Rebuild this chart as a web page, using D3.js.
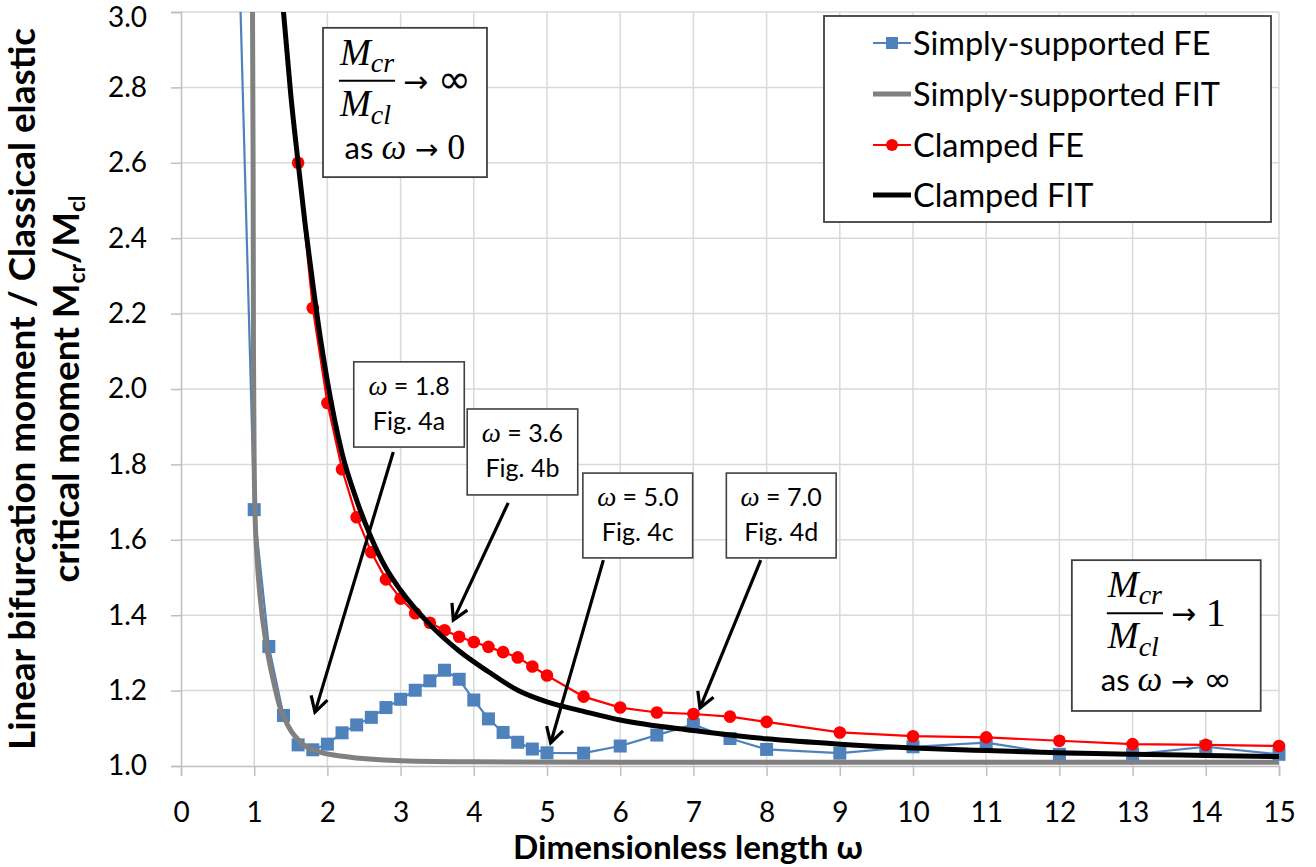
<!DOCTYPE html>
<html>
<head>
<meta charset="utf-8">
<script src="https://cdn.jsdelivr.net/npm/d3@7"></script>
<style>
  body { margin: 0; background: #fff; }
  text { font-family: Lato, "Open Sans", sans-serif; fill: #000; }
  .serif { font-family: "Liberation Serif", "DejaVu Serif", serif; }
  .sym { font-family: "DejaVu Sans", sans-serif; }
</style>
</head>
<body>
<svg id="chart" width="1316" height="867"></svg>
<script>
// ---- data ----
const ssFeOmega = [0.8, 1.0, 1.2, 1.4, 1.6, 1.8, 2.0, 2.2, 2.4, 2.6, 2.8, 3.0, 3.2, 3.4, 3.6, 3.8, 4.0, 4.2, 4.4, 4.6, 4.8, 5.0,
                   5.5, 6.0, 6.5, 7.0, 7.5, 8.0, 9.0, 10, 11, 12, 13, 14, 15];
const ssFeValue = [3.10, 1.68, 1.317, 1.134, 1.056, 1.043, 1.058, 1.088, 1.109, 1.129, 1.155, 1.177, 1.201, 1.226, 1.254, 1.230, 1.175, 1.125, 1.089, 1.063, 1.045, 1.035,
                   1.034, 1.053, 1.082, 1.110, 1.073, 1.044, 1.034, 1.051, 1.062, 1.031, 1.031, 1.051, 1.031];

const ssFitOmega = [0.975, 0.985, 0.99, 1.0, 1.01, 1.04, 1.08, 1.17, 1.26, 1.35, 1.47, 1.65, 1.88, 2.24, 3.0, 4.0, 6.0, 10, 15];
const ssFitValue = [3.10, 2.60, 2.10, 1.80, 1.68, 1.55, 1.45, 1.316, 1.228, 1.157, 1.104, 1.060, 1.038, 1.025, 1.014, 1.011, 1.010, 1.010, 1.010];

const clFeOmega = [1.6, 1.8, 2.0, 2.2, 2.4, 2.6, 2.8, 3.0, 3.2, 3.4, 3.6, 3.8, 4.0, 4.2, 4.4, 4.6, 4.8, 5.0,
                   5.5, 6.0, 6.5, 7.0, 7.5, 8.0, 9.0, 10, 11, 12, 13, 14, 15];
const clFeValue = [2.60, 2.215, 1.963, 1.787, 1.660, 1.567, 1.495, 1.444, 1.405, 1.380, 1.360, 1.343, 1.329, 1.316, 1.302, 1.288, 1.264, 1.240,
                   1.184, 1.155, 1.142, 1.138, 1.131, 1.117, 1.089, 1.079, 1.076, 1.067, 1.058, 1.056, 1.053];

const clFitOmega = [1.37, 1.4, 1.5, 1.6, 1.7, 1.8, 1.9, 2.0, 2.2, 2.4, 2.6, 2.8, 3.0, 3.4, 3.8, 4.2, 4.6, 5.0, 5.5, 6, 7, 8, 9, 10, 11, 12, 13, 14, 15];
const clFitValue = [3.07, 3.00, 2.78, 2.60, 2.43, 2.28, 2.14, 2.02, 1.83, 1.705, 1.605, 1.525, 1.466, 1.375, 1.305, 1.250, 1.201, 1.170, 1.145, 1.122, 1.094, 1.072, 1.058, 1.048, 1.041, 1.035, 1.031, 1.028, 1.025];

const xTickValues = [0, 1, 2, 3, 4, 5, 6, 7, 8, 9, 10, 11, 12, 13, 14, 15];
const yTickValues = [1.0, 1.2, 1.4, 1.6, 1.8, 2.0, 2.2, 2.4, 2.6, 2.8, 3.0];

const legendLabels = ["Simply-supported FE", "Simply-supported FIT", "Clamped FE", "Clamped FIT"];

// callouts: omega label, figure label, box corners and arrow in data units
const callouts = [
  { w: "1.8", fig: "Fig. 4a", box: [2.36, 2.072, 3.87, 1.846], from: [2.90, 1.833], to: [1.83, 1.143] },
  { w: "3.6", fig: "Fig. 4b", box: [3.91, 1.947, 5.42, 1.719], from: [4.47, 1.698], to: [3.72, 1.387] },
  { w: "5.0", fig: "Fig. 4c", box: [5.49, 1.777, 6.99, 1.552], from: [5.77, 1.546], to: [5.05, 1.061] },
  { w: "7.0", fig: "Fig. 4d", box: [7.45, 1.777, 8.95, 1.552], from: [7.92, 1.546], to: [7.09, 1.154] }
];
const limitBoxes = [
  { limit: "∞", as: "0", box: [1.94, 2.958, 4.18, 2.562] },
  { limit: "1", as: "∞", box: [12.17, 1.546, 14.75, 1.146] }
];

// ---- layout ----
const svg = d3.select("#chart");
const x = d3.scaleLinear().domain([0, 15]).range([181, 1279]);
const y = d3.scaleLinear().domain([1, 3]).range([766, 12]);

function fit(sel, target) {
  const w = sel.node().getComputedTextLength();
  const fs = parseFloat(sel.style("font-size"));
  sel.style("font-size", (fs * target / w) + "px");
}

// grid
svg.append("g")
  .selectAll("line")
  .data(xTickValues.slice(1))
  .enter().append("line")
  .attr("x1", d => x(d)).attr("x2", d => x(d))
  .attr("y1", y(3)).attr("y2", y(1))
  .attr("stroke", "#d9d9d9").attr("stroke-width", 1.5);
svg.append("g")
  .selectAll("line")
  .data(yTickValues.slice(1))
  .enter().append("line")
  .attr("x1", x(0)).attr("x2", x(15))
  .attr("y1", d => y(d)).attr("y2", d => y(d))
  .attr("stroke", "#d9d9d9").attr("stroke-width", 1.5);

// axes
const xAxis = svg.append("g")
  .attr("transform", `translate(0,${y(1)})`)
  .call(d3.axisBottom(x).tickValues(xTickValues).tickSize(10).tickPadding(26).tickFormat(d3.format("d")));
const yAxis = svg.append("g")
  .attr("transform", `translate(${x(0)},0)`)
  .call(d3.axisLeft(y).tickValues(yTickValues).tickSize(10).tickPadding(24).tickFormat(d3.format(".1f")));
[xAxis, yAxis].forEach(g => {
  g.select(".domain").attr("stroke", "#bfbfbf").attr("stroke-width", 1.5);
  g.selectAll(".tick line").attr("stroke", "#bfbfbf").attr("stroke-width", 1.5);
  g.selectAll(".tick text").style("font-family", "Lato, sans-serif").style("font-size", "28px").attr("fill", "#000");
});
// keep the top label inside the picture
yAxis.selectAll(".tick text").filter(d => d === 3).attr("dy", "0.52em");

// series
svg.append("clipPath").attr("id", "plotClip")
  .append("rect").attr("x", 150).attr("y", y(3)).attr("width", 1160).attr("height", y(1) - y(3) + 20);
const plot = svg.append("g").attr("clip-path", "url(#plotClip)");

const zip = (a, b) => a.map((d, i) => [d, b[i]]);
const straight = d3.line().x(d => x(d[0])).y(d => y(d[1]));
const smooth = d3.line().x(d => x(d[0])).y(d => y(d[1])).curve(d3.curveMonotoneX);

const ssFe = zip(ssFeOmega, ssFeValue);
const ssFit = zip(ssFitOmega, ssFitValue);
const clFe = zip(clFeOmega, clFeValue);
const clFit = zip(clFitOmega, clFitValue);

plot.append("path").datum(ssFe).attr("d", straight)
  .attr("fill", "none").attr("stroke", "#4f81bd").attr("stroke-width", 2.2);
plot.selectAll("rect.ss").data(ssFe).enter().append("rect")
  .attr("x", d => x(d[0]) - 6.5).attr("y", d => y(d[1]) - 6.5)
  .attr("width", 13).attr("height", 13).attr("fill", "#4f81bd");

plot.append("path").datum(ssFit).attr("d", smooth)
  .attr("fill", "none").attr("stroke", "#808080").attr("stroke-width", 5);

plot.append("path").datum(clFe).attr("d", straight)
  .attr("fill", "none").attr("stroke", "#ff0000").attr("stroke-width", 2.2);
plot.selectAll("circle.cl").data(clFe).enter().append("circle")
  .attr("cx", d => x(d[0])).attr("cy", d => y(d[1])).attr("r", 6.3).attr("fill", "#ff0000");

plot.append("path").datum(clFit).attr("d", smooth)
  .attr("fill", "none").attr("stroke", "#000").attr("stroke-width", 5);

// axis titles
const xTitle = svg.append("text")
  .attr("x", 513).attr("y", 859)
  .style("font-weight", "bold").style("font-size", "30px")
  .text("Dimensionless length ω");
fit(xTitle, 350);

const yT1 = svg.append("text")
  .attr("transform", `translate(35,${(y(1) + y(3)) / 2}) rotate(-90)`)
  .attr("text-anchor", "middle")
  .style("font-weight", "bold").style("font-size", "30px")
  .text("Linear bifurcation moment / Classical elastic");
fit(yT1, 722);
const yFs = parseFloat(yT1.style("font-size"));
const yT2 = svg.append("text")
  .attr("transform", `translate(79,${(y(1) + y(3)) / 2}) rotate(-90)`)
  .attr("text-anchor", "middle")
  .style("font-weight", "bold").style("font-size", yFs + "px");
yT2.append("tspan").text("critical moment M");
yT2.append("tspan").attr("dy", 6).style("font-size", (yFs * 0.62) + "px").text("cr");
yT2.append("tspan").attr("dy", -6).text("/M");
yT2.append("tspan").attr("dy", 6).style("font-size", (yFs * 0.62) + "px").text("cl");

// legend
const lg = svg.append("g");
lg.append("rect").attr("x", 824).attr("y", 16).attr("width", 447).attr("height", 206)
  .attr("fill", "#fff").attr("stroke", "#404040").attr("stroke-width", 1.8);
const rowY = [43, 94, 145, 195];
const lineCol = ["#4f81bd", "#808080", "#ff0000", "#000"];
const lineW = [2.2, 5, 2.2, 5];
legendLabels.forEach((label, i) => {
  lg.append("line").attr("x1", 873).attr("x2", 911).attr("y1", rowY[i]).attr("y2", rowY[i])
    .attr("stroke", lineCol[i]).attr("stroke-width", lineW[i]);
  if (i === 0) lg.append("rect").attr("x", 886).attr("y", rowY[i] - 6).attr("width", 12).attr("height", 12).attr("fill", lineCol[i]);
  if (i === 2) lg.append("circle").attr("cx", 892).attr("cy", rowY[i]).attr("r", 6).attr("fill", lineCol[i]);
  lg.append("text").attr("class", "lgt").attr("x", 913).attr("y", rowY[i]).attr("dy", "0.36em")
    .style("font-size", "26px").text(label);
});
const widest = lg.selectAll("text.lgt").filter((d, i) => i === 1);
fit(widest, 307);
lg.selectAll("text.lgt").style("font-size", widest.style("font-size"));

// arrow marker
svg.append("defs").append("marker")
  .attr("id", "head").attr("viewBox", "-18 -12 22 24")
  .attr("refX", 0).attr("refY", 0)
  .attr("markerWidth", 22).attr("markerHeight", 24)
  .attr("markerUnits", "userSpaceOnUse").attr("orient", "auto")
  .append("path").attr("d", "M-15,-8.5 L0,0 L-15,8.5")
  .attr("fill", "none").attr("stroke", "#000").attr("stroke-width", 3.2);

// callouts
callouts.forEach(c => {
  const [w0, v0, w1, v1] = c.box;
  const bx = x(w0), by = y(v0), bw = x(w1) - x(w0), bh = y(v1) - y(v0);
  svg.append("line")
    .attr("x1", x(c.from[0])).attr("y1", y(c.from[1]))
    .attr("x2", x(c.to[0])).attr("y2", y(c.to[1]))
    .attr("stroke", "#000").attr("stroke-width", 3.2).attr("marker-end", "url(#head)");
  svg.append("rect").attr("x", bx).attr("y", by).attr("width", bw).attr("height", bh)
    .attr("fill", "#fff").attr("stroke", "#404040").attr("stroke-width", 1.6);
  const t1 = svg.append("text").attr("x", bx + bw / 2).attr("y", by + 33)
    .attr("text-anchor", "middle").style("font-size", "25px");
  t1.append("tspan").attr("class", "serif").style("font-style", "italic").style("font-size", "27px").text("ω");
  t1.append("tspan").text(" = " + c.w);
  svg.append("text").attr("x", bx + bw / 2).attr("y", by + 68)
    .attr("text-anchor", "middle").style("font-size", "25px").text(c.fig);
});

// limit boxes
limitBoxes.forEach(b => {
  const [w0, v0, w1, v1] = b.box;
  const bx = x(w0), by = y(v0), bw = x(w1) - x(w0), bh = y(v1) - y(v0);
  const cx = bx + bw / 2;
  svg.append("rect").attr("x", bx).attr("y", by).attr("width", bw).attr("height", bh)
    .attr("fill", "#fff").attr("stroke", "#404040").attr("stroke-width", 1.8);
  const g = svg.append("g");
  const num = g.append("text").attr("class", "serif").attr("y", by + 37).style("font-style", "italic").style("font-size", "37px");
  num.append("tspan").text("M");
  num.append("tspan").attr("dy", 7).style("font-size", "28px").text("cr");
  const den = g.append("text").attr("class", "serif").attr("y", by + 88).style("font-style", "italic").style("font-size", "37px");
  den.append("tspan").text("M");
  den.append("tspan").attr("dy", 8).style("font-size", "28px").text("cl");
  const fw = Math.max(num.node().getComputedTextLength(), den.node().getComputedTextLength()) + 2;
  const arr = g.append("text").attr("y", by + 64);
  arr.append("tspan").attr("class", "sym").style("font-size", "30px").text("→ ");
  if (b.limit === "∞") arr.append("tspan").attr("class", "sym").attr("dy", 1).style("font-size", "40px").text(b.limit);
  else arr.append("tspan").attr("class", "serif").attr("dy", 2).style("font-size", "40px").text(b.limit);
  const aw = arr.node().getComputedTextLength();
  const start = cx - (fw + 8 + aw) / 2;
  num.attr("x", start + 1); den.attr("x", start + 1);
  g.append("line").attr("x1", start).attr("x2", start + fw).attr("y1", by + 53).attr("y2", by + 53)
    .attr("stroke", "#000").attr("stroke-width", 2);
  arr.attr("x", start + fw + 8);
  const as = g.append("text").attr("x", cx).attr("y", by + 131).attr("text-anchor", "middle").style("font-size", "31px");
  as.append("tspan").text("as ");
  as.append("tspan").attr("class", "serif").style("font-style", "italic").style("font-size", "35px").text("ω");
  as.append("tspan").attr("class", "sym").style("font-size", "28px").text(" → ");
  if (b.as === "∞") as.append("tspan").attr("class", "sym").style("font-size", "34px").text(b.as);
  else as.append("tspan").attr("class", "serif").style("font-size", "36px").text(b.as);
});
</script>
</body>
</html>
